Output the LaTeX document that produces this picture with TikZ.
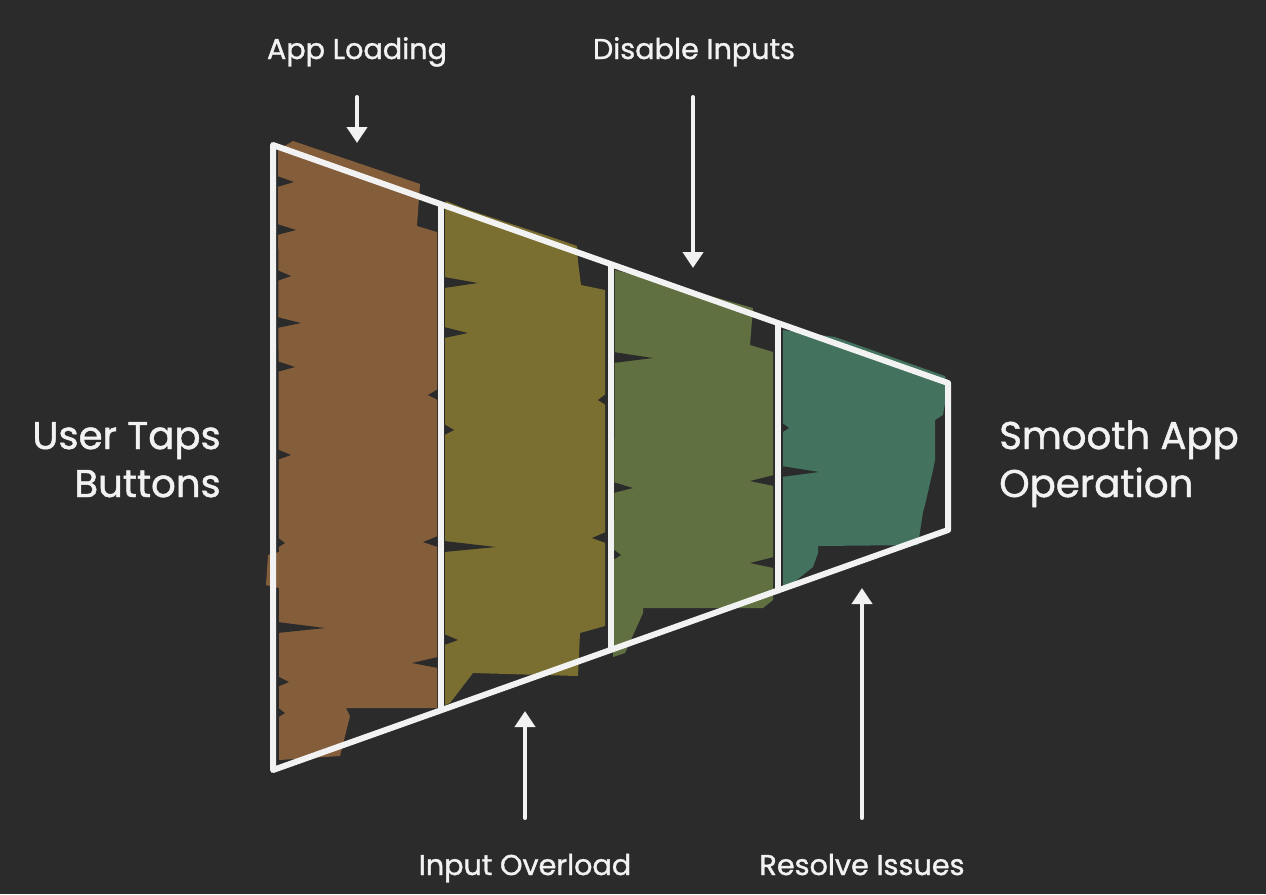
\documentclass[tikz,border=0pt]{standalone}
\usepackage{fontspec}
\setmainfont{Poppins}
\newfontfamily\lblfont{Poppins}[FakeBold=1.2]
\usetikzlibrary{arrows.meta}
\definecolor{bgc}{HTML}{2B2B2B}
\definecolor{inkc}{HTML}{F2F2F2}
\definecolor{brownc}{HTML}{845D3B}
\definecolor{olivec}{HTML}{7A6F30}
\definecolor{greenc}{HTML}{617040}
\definecolor{tealc}{HTML}{43735E}
\newcommand\lnotch[3]{\fill[bgc] (#1,#2-6) -- (#1+#3,#2) -- (#1,#2+5) -- cycle;}
\newcommand\rnotch[3]{\fill[bgc] (#1,#2-6) -- (#1-#3,#2) -- (#1,#2+5) -- cycle;}
\tikzset{
  outline/.style={draw=inkc, line width=4.5pt, line join=round, line cap=round},
  pointer/.style={draw=inkc, line width=3pt, line cap=round, -{Triangle[width=15pt,length=12pt]}},
  smalllabel/.style={text=inkc, font=\lblfont\fontsize{21.5}{26}\selectfont, inner sep=0pt, anchor=base},
  biglabel/.style={text=inkc, font=\lblfont\fontsize{29}{36}\selectfont, inner sep=0pt},
}
\begin{document}
\begin{tikzpicture}[x=0.75pt,y=-0.75pt]
\fill[bgc] (0,0) rectangle (1266,894);
\useasboundingbox (0,0) rectangle (1266,894);

% ---- fills ----
\fill[brownc] (278,150) -- (293,141) -- (420,184) -- (417,226) -- (437,232) -- (437,708)
  -- (346,708) -- (350,716) -- (340,756) -- (279,760) -- (279,588) -- (266,585) -- (268,555)
  -- (279,552) -- cycle;
\fill[olivec] (445,210) -- (446,201) -- (466,209) -- (560,240) -- (577,246) -- (578,262)
  -- (581,285) -- (605,290) -- (605,626) -- (580,633) -- (578,676) -- (473,673)
  -- (450,703) -- (445,705) -- cycle;
\fill[greenc] (615,270) -- (700,293) -- (753,308) -- (750,345) -- (773,352) -- (773,600)
  -- (763,608) -- (643,608) -- (643,613) -- (625,653) -- (613,657) -- (614,600) -- cycle;
\fill[tealc] (783,330) -- (835,337) -- (945,376) -- (948,386) -- (943,415) -- (935,420)
  -- (935,460) -- (933,470) -- (925,505) -- (923,512) -- (918,545) -- (818,546)
  -- (818,553) -- (813,567) -- (793,583) -- (783,592) -- cycle;

% ---- dark notches ----
\lnotch{277}{182}{17}
\lnotch{277}{230}{19}
\lnotch{277}{276}{14}
\lnotch{277}{323}{24}
\lnotch{277}{367}{18}
\lnotch{277}{455}{14}
\lnotch{277}{543}{8}
\lnotch{277}{628}{48}
\lnotch{277}{682}{12}
\lnotch{277}{713}{8}
\rnotch{438}{542}{15}
\rnotch{438}{663}{26}
\rnotch{438}{395}{10}
\lnotch{444}{283}{34}
\lnotch{444}{333}{24}
\lnotch{444}{547}{52}
\lnotch{444}{640}{14}
\lnotch{444}{430}{10}
\rnotch{606}{538}{14}
\rnotch{606}{400}{8}
\lnotch{613}{358}{40}
\lnotch{613}{488}{20}
\lnotch{613}{555}{8}
\rnotch{774}{481}{24}
\rnotch{774}{563}{24}
\lnotch{781}{472}{38}
\lnotch{781}{428}{8}

% ---- funnel outline ----
\coordinate (tl) at (273,145);
\coordinate (tr) at (948,383);
\coordinate (br) at (948,530);
\coordinate (bl) at (273,770);
\draw[outline] (tl) -- (tr) -- (br) -- (bl) -- cycle;
\coordinate (d1t) at (441,204.6);
\coordinate (d1b) at (441,709.9);
\coordinate (d2t) at (611,264.5);
\coordinate (d2b) at (611,649.5);
\coordinate (d3t) at (778,323.4);
\coordinate (d3b) at (778,590.4);
\draw[outline] (d1t) -- (d1b);
\draw[outline] (d2t) -- (d2b);
\draw[outline] (d3t) -- (d3b);

% ---- side labels ----
\node[biglabel, align=right, anchor=base east] (start) at (221,497) {User Taps\\Buttons};
\node[biglabel, align=left, anchor=base west] (finish) at (999,497) {Smooth App\\Operation};

% ---- stage labels ----
\node[smalllabel] (load) at (357,59) {App Loading};
\node[smalllabel] (disable) at (694,59) {Disable Inputs};
\node[smalllabel] (overload) at (525,875) {Input Overload};
\node[smalllabel] (resolve) at (862,875) {Resolve Issues};

\coordinate (loadT) at (357,97);
\coordinate (loadH) at (357,143);
\coordinate (disT) at (693,97);
\coordinate (disH) at (693,268);
\coordinate (ovT) at (525,818);
\coordinate (ovH) at (525,711);
\coordinate (resT) at (862,818);
\coordinate (resH) at (862,588);
\draw[pointer] (loadT) -- (loadH);
\draw[pointer] (disT) -- (disH);
\draw[pointer] (ovT) -- (ovH);
\draw[pointer] (resT) -- (resH);
\end{tikzpicture}
\end{document}
